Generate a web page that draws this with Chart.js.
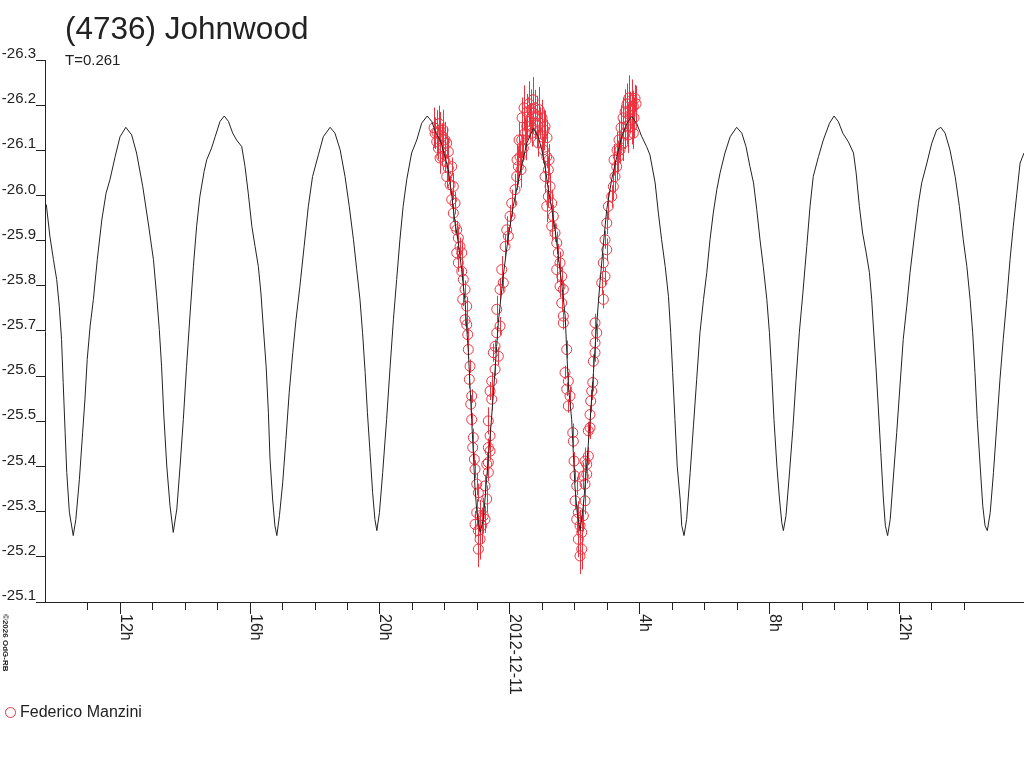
<!DOCTYPE html>
<html>
<head>
<meta charset="utf-8">
<title>(4736) Johnwood</title>
<script src="https://cdn.jsdelivr.net/npm/chart.js@4.4.1/dist/chart.umd.min.js"></script>
<style>
  body { margin: 0; background: #fff; }
  #wrap { position: relative; width: 1024px; height: 768px; font-family: "Liberation Sans", Arial, sans-serif; color: #222; }
  #chart { position: absolute; left: 0; top: 0; }
  .title { position: absolute; left: 65px; top: 13px; font-size: 31.5px; line-height: 31px; white-space: nowrap; }
  .period { position: absolute; left: 65px; top: 52px; font-size: 15px; line-height: 15px; }
  .legend { position: absolute; left: 20px; top: 704px; font-size: 16px; line-height: 16px; white-space: nowrap; }
  .legend-mark { position: absolute; left: 5px; top: 707px; width: 9px; height: 9px; border: 1px solid #ee3340; border-radius: 50%; }
  .copy { position: absolute; left: 9px; top: 614px; font-size: 8px; line-height: 8px; font-weight: bold; white-space: nowrap;
          transform-origin: 0 0; transform: rotate(90deg); }
</style>
</head>
<body>
<div id="wrap">
  <canvas id="chart" width="1024" height="768"></canvas>
  <div class="title">(4736) Johnwood</div>
  <div class="period">T=0.261</div>
  <span class="legend-mark"></span>
  <div class="legend">Federico Manzini</div>
  <div class="copy">©2026 OdG-RB</div>
</div>
<script>
// hours from 2012-12-11 00:00, magnitudes
const modelHours = [
  -14.26,-14.15,-14.04,-13.94,-13.86,-13.79,-13.74,-13.68,-13.63,-13.55,
  -13.43,-13.35,-13.24,-13.14,-13.07,-13.00,-12.91,-12.81,-12.69,-12.55,
  -12.42,-12.30,-12.14,-11.99,-11.81,-11.63,-11.48,-11.29,-11.12,-10.96,
  -10.86,-10.78,-10.71,-10.64,-10.55,-10.45,-10.35,-10.24,-10.14,-10.04,
  -9.94,-9.83,-9.73,-9.63,-9.53,-9.40,-9.32,-9.17,-9.06,-8.91,
  -8.78,-8.65,-8.52,-8.40,-8.24,-8.14,-8.04,-7.93,-7.83,-7.73,
  -7.65,-7.58,-7.49,-7.42,-7.37,-7.29,-7.22,-7.16,-7.08,-6.98,
  -6.88,-6.78,-6.67,-6.57,-6.45,-6.32,-6.19,-6.06,-5.88,-5.73,
  -5.52,-5.37,-5.21,-5.06,-4.93,-4.80,-4.70,-4.60,-4.52,-4.44,
  -4.37,-4.29,-4.21,-4.14,-4.08,-4.00,-3.90,-3.78,-3.67,-3.57,
  -3.47,-3.37,-3.27,-3.16,-3.01,-2.85,-2.70,-2.53,-2.39,-2.26,
  -2.13,-1.98,-1.88,-1.77,-1.67,-1.57,-1.47,-1.36,-1.31,-1.26,
  -1.21,-1.16,-1.11,-1.06,-1.00,-0.90,-0.80,-0.70,-0.59,-0.49,
  -0.39,-0.34,-0.19,-0.03,0.12,0.33,0.54,0.74,0.89,1.00,
  1.10,1.20,1.31,1.41,1.51,1.61,1.72,1.77,1.82,1.92,
  1.97,2.02,2.09,2.18,2.28,2.38,2.49,2.59,2.67,2.79,
  2.90,3.00,3.15,3.31,3.46,3.62,3.77,3.92,4.08,4.23,
  4.33,4.49,4.59,4.69,4.80,4.90,4.97,5.03,5.10,5.17,
  5.26,5.31,5.38,5.46,5.57,5.67,5.77,5.87,5.98,6.08,
  6.18,6.28,6.39,6.49,6.64,6.80,7.00,7.16,7.29,7.41,
  7.52,7.62,7.72,7.82,7.93,8.01,8.08,8.15,8.24,8.32,
  8.39,8.44,8.52,8.62,8.73,8.83,8.93,9.04,9.16,9.26,
  9.36,9.52,9.67,9.86,10.00,10.13,10.27,10.44,10.60,10.68,
  10.78,10.88,10.99,11.09,11.16,11.21,11.29,11.36,11.44,11.52,
  11.58,11.65,11.73,11.83,11.93,12.03,12.13,12.24,12.34,12.46,
  12.60,12.70,12.86,13.01,13.16,13.29,13.42,13.57,13.73,13.86,
  13.98,14.09,14.19,14.27,14.34,14.41,14.50,14.58,14.65,14.72,
  14.81,14.91,15.01,15.11,15.21,15.32,15.42,15.52,15.63,15.73,
  15.85
];
const modelMag = [
  -25.980,-25.910,-25.858,-25.814,-25.755,-25.681,-25.586,-25.476,-25.387,-25.299,
  -25.247,-25.283,-25.372,-25.476,-25.549,-25.637,-25.711,-25.770,-25.858,-25.946,
  -26.005,-26.035,-26.086,-26.130,-26.151,-26.134,-26.094,-26.020,-25.939,-25.858,
  -25.777,-25.703,-25.622,-25.512,-25.401,-25.313,-25.254,-25.306,-25.401,-25.504,
  -25.622,-25.740,-25.843,-25.932,-25.998,-26.053,-26.079,-26.105,-26.130,-26.164,
  -26.176,-26.164,-26.138,-26.123,-26.108,-26.064,-26.005,-25.932,-25.887,-25.843,
  -25.784,-25.711,-25.622,-25.519,-25.416,-25.328,-25.269,-25.247,-25.291,-25.364,
  -25.460,-25.563,-25.652,-25.725,-25.799,-25.887,-25.976,-26.042,-26.090,-26.130,
  -26.151,-26.138,-26.101,-26.042,-25.976,-25.902,-25.836,-25.770,-25.696,-25.608,
  -25.519,-25.431,-25.342,-25.283,-25.258,-25.298,-25.387,-25.504,-25.622,-25.725,
  -25.814,-25.902,-25.976,-26.035,-26.094,-26.123,-26.160,-26.176,-26.164,-26.138,
  -26.123,-26.086,-26.057,-25.998,-25.939,-25.895,-25.836,-25.762,-25.703,-25.652,
  -25.578,-25.504,-25.431,-25.357,-25.298,-25.254,-25.283,-25.372,-25.468,-25.563,
  -25.666,-25.718,-25.821,-25.910,-25.976,-26.050,-26.116,-26.149,-26.130,-26.101,
  -26.064,-26.013,-25.969,-25.924,-25.865,-25.807,-25.733,-25.652,-25.578,-25.504,
  -25.431,-25.357,-25.298,-25.258,-25.313,-25.401,-25.504,-25.608,-25.696,-25.807,
  -25.895,-25.969,-26.035,-26.086,-26.130,-26.160,-26.175,-26.160,-26.130,-26.108,
  -26.090,-26.028,-25.961,-25.902,-25.843,-25.777,-25.696,-25.608,-25.504,-25.401,
  -25.328,-25.269,-25.247,-25.283,-25.387,-25.490,-25.593,-25.696,-25.770,-25.829,
  -25.902,-25.961,-26.013,-26.050,-26.094,-26.130,-26.151,-26.138,-26.108,-26.064,
  -26.028,-25.969,-25.902,-25.843,-25.770,-25.696,-25.608,-25.504,-25.401,-25.328,
  -25.276,-25.258,-25.291,-25.379,-25.482,-25.593,-25.696,-25.784,-25.887,-25.976,
  -26.042,-26.086,-26.123,-26.160,-26.176,-26.164,-26.138,-26.119,-26.094,-26.050,
  -25.976,-25.917,-25.873,-25.829,-25.770,-25.711,-25.622,-25.534,-25.431,-25.328,
  -25.269,-25.247,-25.283,-25.379,-25.475,-25.578,-25.681,-25.755,-25.829,-25.902,
  -25.983,-26.028,-26.072,-26.116,-26.145,-26.151,-26.138,-26.101,-26.042,-25.976,
  -25.902,-25.843,-25.770,-25.696,-25.608,-25.504,-25.401,-25.313,-25.269,-25.258,
  -25.298,-25.387,-25.490,-25.593,-25.681,-25.770,-25.858,-25.932,-26.005,-26.072,
  -26.094
];

// Federico Manzini observations
const obsHours = [
  -2.288,-2.236,-2.134,-2.082,-2.187,-2.033,-1.928,-2.082,-1.879,-1.980,
  -1.879,-1.774,-1.928,-1.826,-1.725,-1.774,-1.672,-1.725,-1.672,-1.620,
  -1.571,-1.518,-1.620,-1.466,-1.571,-1.466,-1.417,-1.364,-1.435,-1.312,
  -1.364,-1.312,-1.281,-1.263,-1.210,-1.232,-1.158,-1.189,-1.158,-1.109,
  -1.127,-1.078,-1.056,-1.004,-0.955,-1.004,-0.902,-1.056,-0.801,-0.955,
  -0.850,-0.902,-0.955,-0.748,-0.696,-0.748,-0.647,-0.647,-0.594,-0.696,
  -0.647,-0.594,-0.647,-0.542,-0.594,-0.542,-0.440,-0.493,-0.440,-0.339,
  -0.388,-0.286,-0.388,-0.286,-0.185,-0.234,-0.132,-0.031,-0.080,0.022,
  0.074,0.176,0.228,0.277,0.330,0.431,0.382,0.484,0.536,0.638,
  0.739,0.792,0.690,0.844,0.945,0.998,0.893,1.099,1.047,1.152,
  1.201,1.099,1.253,1.201,1.306,1.152,1.355,1.306,1.407,1.460,
  1.509,1.561,1.460,1.614,1.561,1.663,1.614,1.663,1.663,1.768,
  1.715,1.817,1.768,1.869,1.817,1.953,1.971,1.993,2.023,2.076,
  2.023,2.125,2.076,2.177,2.230,2.125,2.230,2.177,2.279,2.331,
  2.331,2.384,2.279,2.384,2.433,2.331,2.433,2.485,2.485,2.507,
  2.538,2.569,2.587,2.639,2.639,2.692,2.639,2.895,2.846,2.947,
  2.895,3.000,2.947,3.000,3.049,3.154,3.203,3.255,3.308,3.357,
  3.409,3.511,3.563,3.616,3.665,3.717,3.819,3.871,3.770,3.819,
  3.717,
  0.391,0.453,0.545,0.607,0.668,0.730,0.792,0.853,0.915,1.007,
  1.069,1.161,0.514,0.299,0.237,0.360,1.223,3.225,3.317,3.378,
  3.440,3.502,3.563,3.625,3.686,3.779,3.902,3.840,3.656,-2.319,
  -2.227,-2.165,-2.042,-1.980,-2.134
];
const obsMag = [
  -26.138,-26.119,-26.145,-26.130,-26.105,-26.108,-26.116,-26.086,-26.097,-26.075,
  -26.061,-26.064,-26.042,-26.024,-26.020,-25.991,-25.983,-25.961,-25.932,-25.924,
  -25.906,-25.887,-25.873,-25.873,-25.851,-25.832,-25.814,-25.792,-25.770,-25.755,
  -25.725,-25.714,-25.692,-25.659,-25.622,-25.593,-25.556,-25.538,-25.504,-25.464,
  -25.442,-25.416,-25.394,-25.361,-25.342,-25.298,-25.291,-25.272,-25.291,-25.258,
  -25.269,-25.239,-25.217,-25.283,-25.328,-25.357,-25.387,-25.409,-25.434,-25.405,
  -25.442,-25.468,-25.501,-25.549,-25.567,-25.589,-25.615,-25.652,-25.666,-25.644,
  -25.696,-25.711,-25.748,-25.792,-25.807,-25.836,-25.887,-25.910,-25.924,-25.954,
  -25.983,-26.013,-26.042,-26.064,-26.086,-26.105,-26.123,-26.138,-26.153,-26.164,
  -26.182,-26.160,-26.138,-26.145,-26.160,-26.130,-26.116,-26.153,-26.101,-26.086,
  -26.057,-26.042,-26.020,-25.998,-25.983,-25.976,-25.954,-25.932,-25.917,-25.895,
  -25.873,-25.851,-25.836,-25.821,-25.799,-25.792,-25.762,-25.733,-25.718,-25.659,
  -25.608,-25.589,-25.571,-25.556,-25.534,-25.475,-25.456,-25.412,-25.379,-25.357,
  -25.324,-25.298,-25.283,-25.269,-25.254,-25.239,-25.217,-25.202,-25.291,-25.324,
  -25.361,-25.383,-25.379,-25.405,-25.423,-25.412,-25.479,-25.486,-25.515,-25.545,
  -25.567,-25.586,-25.633,-25.652,-25.674,-25.696,-25.718,-25.770,-25.807,-25.821,
  -25.851,-25.880,-25.902,-25.939,-25.976,-25.998,-26.020,-26.042,-26.064,-26.086,
  -26.101,-26.116,-26.138,-26.153,-26.167,-26.178,-26.197,-26.215,-26.153,-26.138,
  -26.190,
  -26.172,-26.194,-26.185,-26.203,-26.190,-26.212,-26.194,-26.176,-26.190,-26.172,
  -26.145,-26.128,-26.123,-26.123,-26.079,-26.057,-26.079,-26.079,-26.101,-26.123,
  -26.150,-26.172,-26.185,-26.203,-26.216,-26.212,-26.203,-26.172,-26.134,-26.150,
  -26.139,-26.159,-26.145,-26.123,-26.083
];
const obsErr = [
  0.035,0.03,0.04,0.03,0.025,0.03,0.035,0.02,0.03,0.025,
  0.03,0.02,0.025,0.02,0.03,0.02,0.025,0.02,0.015,0.02,
  0.025,0.02,0.015,0.03,0.02,0.02,0.025,0.02,0.015,0.02,
  0.015,0.02,0.015,0.02,0.015,0.02,0.015,0.02,0.015,0.02,
  0.02,0.015,0.02,0.025,0.02,0.03,0.035,0.03,0.04,0.035,
  0.04,0.045,0.04,0.03,0.03,0.025,0.02,0.03,0.02,0.025,
  0.02,0.02,0.03,0.025,0.02,0.02,0.015,0.02,0.015,0.02,
  0.015,0.02,0.03,0.025,0.02,0.03,0.025,0.02,0.03,0.025,
  0.03,0.035,0.03,0.04,0.035,0.03,0.04,0.035,0.03,0.04,
  0.045,0.035,0.03,0.04,0.035,0.04,0.03,0.035,0.03,0.025,
  0.03,0.035,0.03,0.025,0.03,0.035,0.025,0.03,0.02,0.025,
  0.02,0.025,0.03,0.02,0.025,0.02,0.02,0.015,0.015,0.02,
  0.015,0.02,0.015,0.02,0.015,0.02,0.015,0.02,0.015,0.02,
  0.02,0.025,0.03,0.035,0.04,0.04,0.045,0.04,0.035,0.03,
  0.025,0.02,0.03,0.025,0.02,0.03,0.02,0.025,0.02,0.025,
  0.02,0.02,0.015,0.02,0.025,0.02,0.02,0.02,0.025,0.02,
  0.02,0.025,0.02,0.025,0.03,0.025,0.03,0.035,0.03,0.035,
  0.03,0.04,0.035,0.04,0.035,0.04,0.035,0.03,0.04,0.035,
  0.04,
  0.045,0.05,0.04,0.05,0.045,0.05,0.04,0.045,0.05,0.04,
  0.045,0.04,0.045,0.04,0.035,0.04,0.035,0.035,0.04,0.045,
  0.05,0.045,0.05,0.045,0.05,0.045,0.04,0.045,0.04,0.045,
  0.05,0.04,0.045,0.04,0.035
];

const xMin = -14.3, xMax = 15.85;
const yMin = -26.3, yMax = -25.1, yStep = 0.1;
const majorHours = [-12, -8, -4, 0, 4, 8, 12];
const majorLabels = ['12h', '16h', '20h', '2012-12-11', '4h', '8h', '12h'];

const obsColor = '#ee3340';
const inkColor = '#222';
const fontFamily = '"Liberation Sans", Arial, sans-serif';

Chart.defaults.font.family = fontFamily;

// vertical error bars under the circles
const errorBars = {
  id: 'errorBars',
  beforeDatasetsDraw(chart) {
    const { ctx, scales: { x, y } } = chart;
    ctx.save();
    ctx.strokeStyle = obsColor;
    ctx.lineWidth = 1;
    obsHours.forEach((h, i) => {
      const px = Math.round(x.getPixelForValue(h)) + 0.5;
      ctx.beginPath();
      ctx.moveTo(px, y.getPixelForValue(obsMag[i] - obsErr[i]));
      ctx.lineTo(px, y.getPixelForValue(obsMag[i] + obsErr[i]));
      ctx.stroke();
    });
    ctx.restore();
  }
};

// hourly ticks under the axis, longer ones and rotated labels every 4 h
const timeAxis = {
  id: 'timeAxis',
  afterDraw(chart) {
    const { ctx, scales: { x } } = chart;
    const y0 = x.top;
    ctx.save();
    ctx.strokeStyle = inkColor;
    ctx.lineWidth = 1;
    x.ticks.forEach(t => {
      const v = Math.round(t.value);
      if (Math.abs(t.value - v) > 1e-6) return;
      const px = Math.round(x.getPixelForValue(v)) + 0.5;
      const len = majorHours.includes(v) ? 12 : 8;
      ctx.beginPath();
      ctx.moveTo(px, y0);
      ctx.lineTo(px, y0 + len);
      ctx.stroke();
    });
    ctx.fillStyle = inkColor;
    ctx.font = '16px ' + fontFamily;
    ctx.textAlign = 'left';
    ctx.textBaseline = 'alphabetic';
    majorHours.forEach((h, i) => {
      const px = Math.round(x.getPixelForValue(h));
      ctx.save();
      ctx.translate(px + 1, y0 + 12);
      ctx.rotate(Math.PI / 2);
      ctx.fillText(majorLabels[i], 0, 0);
      ctx.restore();
    });
    ctx.restore();
  }
};

new Chart(document.getElementById('chart'), {
  type: 'scatter',
  data: {
    datasets: [
      {
        type: 'line',
        label: 'model',
        data: modelHours.map((h, i) => ({ x: h, y: modelMag[i] })),
        borderColor: inkColor,
        borderWidth: 1,
        pointRadius: 0,
        tension: 0,
        fill: false,
        order: 0
      },
      {
        label: 'Federico Manzini',
        data: obsHours.map((h, i) => ({ x: h, y: obsMag[i] })),
        pointStyle: 'circle',
        pointRadius: 5,
        borderColor: obsColor,
        backgroundColor: 'rgba(0,0,0,0)',
        borderWidth: 1,
        showLine: false,
        order: 1
      }
    ]
  },
  options: {
    responsive: false,
    animation: false,
    layout: { autoPadding: false, padding: { left: 0, top: 60, right: 0, bottom: 0 } },
    plugins: {
      legend: { display: false },
      tooltip: { enabled: false },
      title: { display: false }
    },
    scales: {
      x: {
        type: 'linear',
        min: xMin,
        max: xMax,
        ticks: { display: false, stepSize: 1 },
        grid: { drawOnChartArea: false, drawTicks: false },
        border: { color: inkColor, width: 1 },
        afterFit: s => { s.height = 166; }
      },
      y: {
        type: 'linear',
        min: yMin,
        max: yMax,
        reverse: true,
        ticks: {
          stepSize: yStep,
          autoSkip: false,
          padding: 0,
          labelOffset: -6,
          color: inkColor,
          font: { size: 15 },
          callback: v => v.toFixed(1)
        },
        grid: { drawOnChartArea: false, tickLength: 9, color: inkColor },
        border: { color: inkColor, width: 1 },
        afterFit: s => { s.width = 45; }
      }
    }
  },
  plugins: [errorBars, timeAxis]
});
</script>
</body>
</html>
